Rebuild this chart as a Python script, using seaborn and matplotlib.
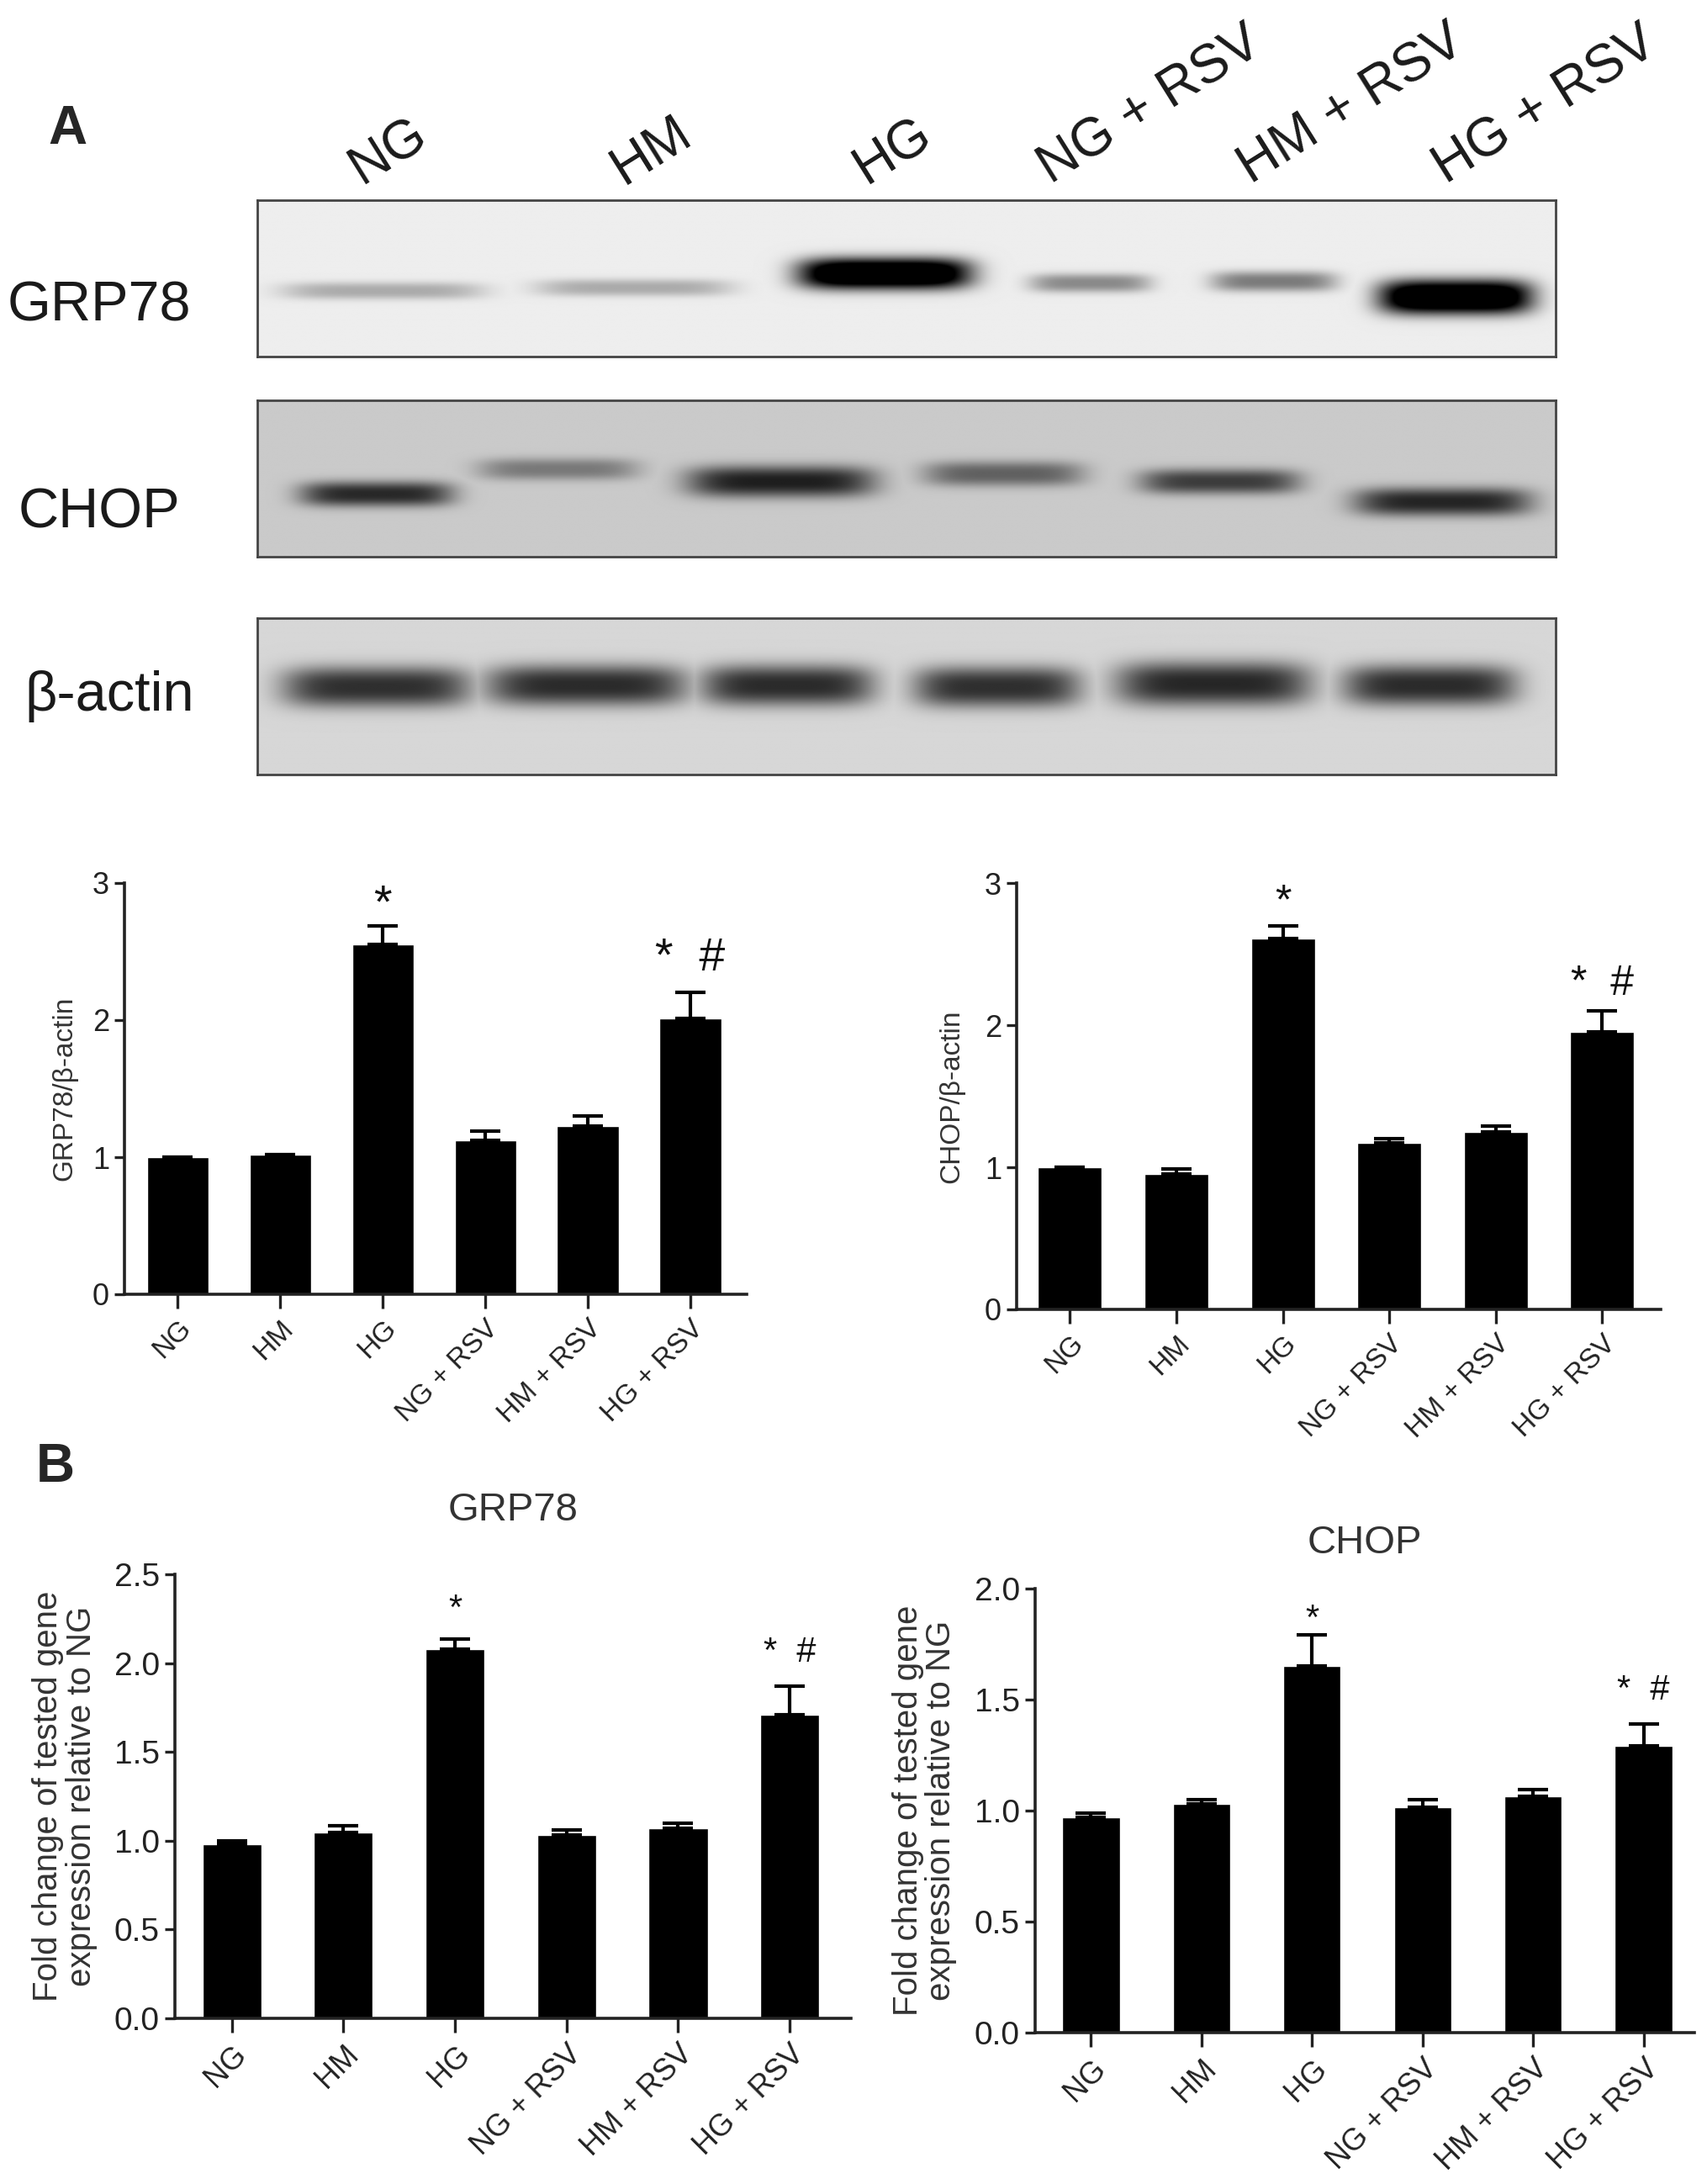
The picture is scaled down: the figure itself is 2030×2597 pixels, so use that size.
import numpy as np
import pandas as pd
import matplotlib
matplotlib.use("Agg")
import matplotlib.pyplot as plt
import seaborn as sns

# ---------------------------------------------------------------
# data
# ---------------------------------------------------------------
groups = ["NG", "HM", "HG", "NG + RSV", "HM + RSV", "HG + RSV"]

# (A) western blot densitometry, band / beta-actin
grp78_ratio = [1.00, 1.02, 2.55, 1.12, 1.23, 2.01]
grp78_ratio_err = [0.0, 0.0, 0.14, 0.07, 0.07, 0.19]
chop_ratio = [1.00, 0.95, 2.61, 1.17, 1.25, 1.95]
chop_ratio_err = [0.0, 0.04, 0.09, 0.03, 0.04, 0.15]

# (B) qPCR fold change relative to NG
grp78_fold = [0.98, 1.045, 2.08, 1.03, 1.07, 1.71]
grp78_fold_err = [0.02, 0.04, 0.055, 0.03, 0.03, 0.16]
chop_fold = [0.97, 1.03, 1.65, 1.015, 1.065, 1.29]
chop_fold_err = [0.02, 0.02, 0.14, 0.035, 0.03, 0.10]

# significance marks and their heights
sig_marks = ["", "", "*", "", "", "*  #"]
grp78_ratio_sig_y = [0, 0, 2.84, 0, 0, 2.45]
chop_ratio_sig_y = [0, 0, 2.86, 0, 0, 2.29]
grp78_fold_sig_y = [0, 0, 2.30, 0, 0, 2.06]
chop_fold_sig_y = [0, 0, 1.86, 0, 0, 1.54]

# blot bands: darkness, lane centre (lane units), width, vertical pos, thickness
grp78_band = [0.28, 0.28, 1.40, 0.42, 0.48, 1.40]
grp78_band_x = [0.58, 1.74, 2.90, 3.85, 4.70, 5.54]
grp78_band_w = [0.93, 0.90, 0.80, 0.56, 0.58, 0.71]
grp78_band_y = [0.58, 0.56, 0.47, 0.53, 0.52, 0.62]
grp78_band_h = [0.055, 0.055, 0.10, 0.06, 0.065, 0.11]

chop_band = [0.80, 0.40, 0.85, 0.52, 0.70, 0.82]
chop_band_x = [0.55, 1.39, 2.42, 3.45, 4.45, 5.48]
chop_band_w = [0.71, 0.74, 0.87, 0.74, 0.74, 0.82]
chop_band_y = [0.60, 0.44, 0.52, 0.47, 0.52, 0.65]
chop_band_h = [0.08, 0.07, 0.10, 0.08, 0.08, 0.09]

actin_band = [0.78, 0.80, 0.80, 0.78, 0.82, 0.80]
actin_band_x = [0.55, 1.52, 2.45, 3.42, 4.42, 5.42]
actin_band_w = [0.87, 0.93, 0.80, 0.77, 0.90, 0.80]
actin_band_y = [0.44, 0.43, 0.43, 0.44, 0.42, 0.43]
actin_band_h = [0.13, 0.13, 0.13, 0.13, 0.14, 0.13]

# ---------------------------------------------------------------
sns.set_theme(style="ticks")
plt.rcParams["font.family"] = ["Liberation Sans", "DejaVu Sans"]

W, H = 2031, 2597
fig = plt.figure(figsize=(W / 100, H / 100), dpi=100)
fig.patch.set_facecolor("white")


def px_axes(left, top, right, bottom):
    return fig.add_axes([left / W, 1 - bottom / H, (right - left) / W, (bottom - top) / H])


def draw_blot(ax, dark, xs, ws, ys, hs, bg):
    yy, xx = np.mgrid[0:1:300j, 0:6:1500j]
    img = np.zeros_like(xx)
    for d, x0, w, y0, h in zip(dark, xs, ws, ys, hs):
        prof = np.exp(-np.abs((xx - x0) / (w / 2)) ** 5) * np.exp(-np.abs((yy - y0) / h) ** 2.6)
        img = np.maximum(img, np.clip(d * prof, 0, 1))
    img = bg * (1 - img)
    ax.imshow(img, cmap="gray", vmin=0, vmax=1, aspect="auto",
              extent=[0, 6, 1, 0], interpolation="bilinear")
    ax.set_xticks([])
    ax.set_yticks([])
    for s in ax.spines.values():
        s.set_visible(True)
        s.set_linewidth(2)
        s.set_color("#444444")


blot_rows = [
    ("GRP78", 238, 424, 0.93, grp78_band, grp78_band_x, grp78_band_w, grp78_band_y, grp78_band_h, 118, 364),
    ("CHOP", 476, 662, 0.79, chop_band, chop_band_x, chop_band_w, chop_band_y, chop_band_h, 118, 610),
    ("β-actin", 735, 921, 0.84, actin_band, actin_band_x, actin_band_w, actin_band_y, actin_band_h, 130, 828),
]
for name, top, bottom, bg, d, xs, ws, ys, hs, lx, ly in blot_rows:
    ax = px_axes(306, top, 1850, bottom)
    draw_blot(ax, d, xs, ws, ys, hs, bg)
    fig.text(lx / W, 1 - ly / H, name, fontsize=48,
             ha="center", va="center", color="#1a1a1a")

# lane labels above the blots
lane_label_x = [430, 742, 1030, 1250, 1488, 1720]
for g, x in zip(groups, lane_label_x):
    fig.text(x / W, 1 - 220 / H, g, fontsize=46, rotation=32, ha="left",
             va="baseline", rotation_mode="anchor", color="#1a1a1a")

fig.text(80 / W, 1 - 154 / H, "A", fontsize=46, fontweight="bold", ha="center", va="center")
fig.text(66 / W, 1 - 1745 / H, "B", fontsize=46, fontweight="bold", ha="center", va="center")


def bar_panel(ax, values, errs, sig_y, width, xlim, ylim, yticks, ylabels, ylabel,
              label_x, tick_fs, lab_fs, ylab_fs, star_fs, cap):
    df = pd.DataFrame({"group": groups, "value": values})
    sns.barplot(data=df, x="group", y="value", color="black", width=width,
                saturation=1, errorbar=None, ax=ax)
    ax.errorbar(np.arange(len(groups)), values, yerr=[np.zeros(len(errs)), errs],
                fmt="none", ecolor="black", elinewidth=3, capsize=cap, capthick=3)
    for i, (m, y) in enumerate(zip(sig_marks, sig_y)):
        if m:
            ax.text(i, y, m, fontsize=star_fs, ha="center", va="center", color="#111111")
    ax.set_xlim(*xlim)
    ax.set_ylim(*ylim)
    ax.set_yticks(yticks)
    ax.set_yticklabels(ylabels, fontsize=tick_fs, color="#222222")
    ax.set_xticks(np.arange(len(groups)))
    ax.set_xticklabels(groups, rotation=45, ha="right", rotation_mode="anchor",
                       fontsize=lab_fs, color="#222222")
    ax.set_xlabel("")
    ax.set_ylabel(ylabel, fontsize=ylab_fs, color="#333333", linespacing=1.05)
    ax.yaxis.set_label_coords(label_x, 0.5)
    sns.despine(ax=ax)
    for s in ("left", "bottom"):
        ax.spines[s].set_linewidth(2.6)
        ax.spines[s].set_color("#222222")
    ax.tick_params(axis="x", length=12, width=2.4, color="#222222", pad=6)
    ax.tick_params(axis="y", length=9, width=2.4, color="#222222", pad=4)
    ax.set_facecolor("white")


ax1 = px_axes(148, 1050, 888, 1539)
bar_panel(ax1, grp78_ratio, grp78_ratio_err, grp78_ratio_sig_y, 0.6, (-0.52, 5.55), (0, 3),
          [0, 1, 2, 3], ["0", "1", "2", "3"], "GRP78/β-actin", -0.075, 26, 24, 24, 40, 13)

ax2 = px_axes(1209, 1050, 1975, 1557)
bar_panel(ax2, chop_ratio, chop_ratio_err, chop_ratio_sig_y, 0.6, (-0.5, 5.55), (0, 3),
          [0, 1, 2, 3], ["0", "1", "2", "3"], "CHOP/β-actin", -0.08, 26, 24, 24, 36, 13)

fold_label = "Fold change of tested gene\nexpression relative to NG"
ax3 = px_axes(208, 1872, 1012, 2400)
bar_panel(ax3, grp78_fold, grp78_fold_err, grp78_fold_sig_y, 0.53, (-0.51, 5.55), (0, 2.5),
          [0, 0.5, 1.0, 1.5, 2.0, 2.5], ["0.0", "0.5", "1.0", "1.5", "2.0", "2.5"],
          fold_label, -0.115, 28, 26, 29, 30, 13)
ax3.set_title("GRP78", fontsize=34, color="#333333", pad=46)

ax4 = px_axes(1231, 1889, 2015, 2417)
bar_panel(ax4, chop_fold, chop_fold_err, chop_fold_sig_y, 0.52, (-0.505, 5.46), (0, 2.0),
          [0, 0.5, 1.0, 1.5, 2.0], ["0.0", "0.5", "1.0", "1.5", "2.0"],
          fold_label, -0.118, 28, 26, 29, 30, 13)
ax4.set_title("CHOP", fontsize=34, color="#333333", pad=30)

fig.savefig("out.png", dpi=100, facecolor="white")
